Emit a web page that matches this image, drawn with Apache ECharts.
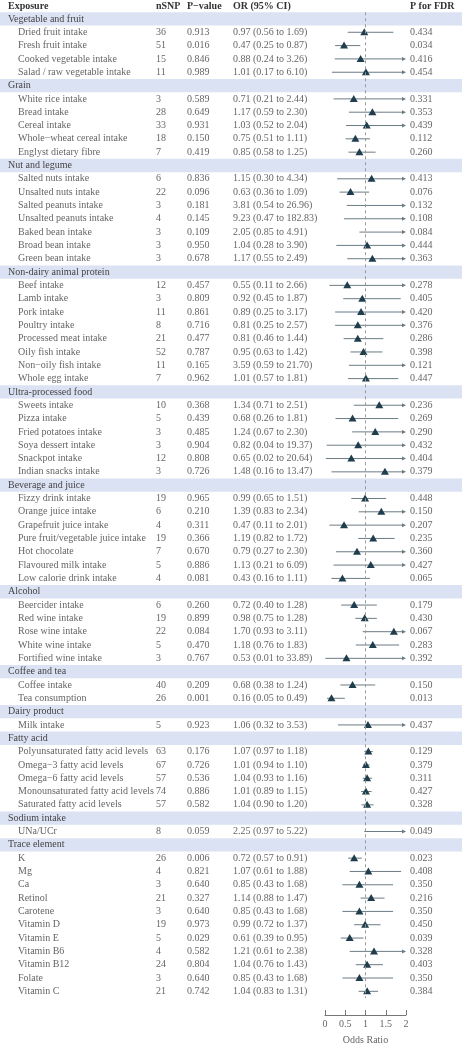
<!DOCTYPE html>
<html><head><meta charset="utf-8">
<script src="https://cdn.jsdelivr.net/npm/echarts@6/dist/echarts.min.js"></script>
<style>html,body{margin:0;padding:0;background:#fff}#c{width:462px;height:1050px}</style>
</head><body><div id="c"></div>
<script>
const groupNames = ["Vegetable and fruit","Grain","Nut and legume","Non-dairy animal protein","Ultra-processed food","Beverage and juice","Alcohol","Coffee and tea","Dairy product","Fatty acid","Sodium intake","Trace element"];
const groupSizes = [4,5,7,8,6,7,5,2,1,5,1,11];
const exposures = ["Dried fruit intake","Fresh fruit intake","Cooked vegetable intake","Salad / raw vegetable intake",
"White rice intake","Bread intake","Cereal intake","Whole\u2212wheat cereal intake","Englyst dietary fibre",
"Salted nuts intake","Unsalted nuts intake","Salted peanuts intake","Unsalted peanuts intake","Baked bean intake","Broad bean intake","Green bean intake",
"Beef intake","Lamb intake","Pork intake","Poultry intake","Processed meat intake","Oily fish intake","Non\u2212oily fish intake","Whole egg intake",
"Sweets intake","Pizza intake","Fried potatoes intake","Soya dessert intake","Snackpot intake","Indian snacks intake",
"Fizzy drink intake","Orange juice intake","Grapefruit juice intake","Pure fruit/vegetable juice intake","Hot chocolate","Flavoured milk intake","Low calorie drink intake",
"Beercider intake","Red wine intake","Rose wine intake","White wine intake","Fortified wine intake",
"Coffee intake","Tea consumption","Milk intake",
"Polyunsaturated fatty acid levels","Omega\u22123 fatty acid levels","Omega\u22126 fatty acid levels","Monounsaturated fatty acid levels","Saturated fatty acid levels",
"UNa/UCr",
"K","Mg","Ca","Retinol","Carotene","Vitamin D","Vitamin E","Vitamin B6","Vitamin B12","Folate","Vitamin C"];
const nsnp = [36,51,15,11, 3,28,33,18,7, 6,22,3,4,3,3,3, 12,3,11,8,21,52,11,7, 10,5,3,3,12,3, 19,6,4,19,7,5,4, 6,19,22,5,3, 40,26, 5, 63,67,57,74,57, 8, 26,4,3,21,3,19,5,4,24,3,21];
const pvals = ["0.913","0.016","0.846","0.989","0.589","0.649","0.931","0.150","0.419","0.836","0.096","0.181","0.145","0.109","0.950","0.678","0.457","0.809","0.861","0.716","0.477","0.787","0.165","0.962","0.368","0.439","0.485","0.904","0.808","0.726","0.965","0.210","0.311","0.366","0.670","0.886","0.081","0.260","0.899","0.084","0.470","0.767","0.209","0.001","0.923","0.176","0.726","0.536","0.886","0.582","0.059","0.006","0.821","0.640","0.327","0.640","0.973","0.029","0.582","0.804","0.640","0.742"];
const ors = [0.97,0.47,0.88,1.01, 0.71,1.17,1.03,0.75,0.85, 1.15,0.63,3.81,9.23,2.05,1.04,1.17, 0.55,0.92,0.89,0.81,0.81,0.95,3.59,1.01, 1.34,0.68,1.24,0.82,0.65,1.48, 0.99,1.39,0.47,1.19,0.79,1.13,0.43, 0.72,0.98,1.70,1.18,0.53, 0.68,0.16, 1.06, 1.07,1.01,1.04,1.01,1.04, 2.25, 0.72,1.07,0.85,1.14,0.85,0.99,0.61,1.21,1.04,0.85,1.04];
const lows = [0.56,0.25,0.24,0.17, 0.21,0.59,0.52,0.51,0.58, 0.30,0.36,0.54,0.47,0.85,0.28,0.55, 0.11,0.45,0.25,0.25,0.46,0.63,0.59,0.57, 0.71,0.26,0.67,0.04,0.02,0.16, 0.65,0.83,0.11,0.82,0.27,0.21,0.16, 0.40,0.75,0.93,0.76,0.01, 0.38,0.05, 0.32, 0.97,0.94,0.93,0.89,0.90, 0.97, 0.57,0.61,0.43,0.88,0.43,0.72,0.39,0.61,0.76,0.43,0.83];
const highs = [1.69,0.87,3.26,6.10, 2.44,2.30,2.04,1.11,1.25, 4.34,1.09,26.96,182.83,4.91,3.90,2.49, 2.66,1.87,3.17,2.57,1.44,1.42,21.70,1.81, 2.51,1.81,2.30,19.37,20.64,13.47, 1.51,2.34,2.01,1.72,2.30,6.09,1.11, 1.28,1.28,3.11,1.83,33.89, 1.24,0.49, 3.53, 1.18,1.10,1.16,1.15,1.20, 5.22, 0.91,1.88,1.68,1.47,1.68,1.37,0.95,2.38,1.43,1.68,1.31];
const fdrs = ["0.434","0.034","0.416","0.454","0.331","0.353","0.439","0.112","0.260","0.413","0.076","0.132","0.108","0.084","0.444","0.363","0.278","0.405","0.420","0.376","0.286","0.398","0.121","0.447","0.236","0.269","0.290","0.432","0.404","0.379","0.448","0.150","0.207","0.235","0.360","0.427","0.065","0.179","0.430","0.067","0.283","0.392","0.150","0.013","0.437","0.129","0.379","0.311","0.427","0.328","0.049","0.023","0.408","0.350","0.216","0.350","0.450","0.039","0.328","0.403","0.350","0.384"];

const rows = [];
let k = 0;
groupNames.forEach((g, gi) => {
  rows.push({group: true, label: g});
  for (let j = 0; j < groupSizes[gi]; j++, k++) rows.push({group: false, i: k});
});
const cats = rows.map((r, i) => String(i));
const FONT = '"Liberation Serif","DejaVu Serif",serif';
const TXT = '#666';
const LINE = '#6b7b84', TRI = '#1f3d4d';

function renderItem(params, api) {
  const idx = api.value(0);
  const r = rows[idx];
  const y = api.coord([1, idx])[1];
  const h = api.size([0, 1])[1];
  const ch = [];
  const t = (x, s, c) => ({type: 'text', style: {x: x, y: y, text: s, fill: c || TXT, font: '10px ' + FONT, textVerticalAlign: 'middle'}});
  if (r.group) {
    ch.push({type: 'rect', shape: {x: 0, y: y - h / 2, width: 462, height: h}, style: {fill: '#dbe2f3'}});
    ch.push(t(8, r.label, '#444'));
    return {type: 'group', children: ch};
  }
  const i = r.i;
  ch.push(t(18, exposures[i]));
  ch.push(t(156, String(nsnp[i])));
  ch.push(t(187, pvals[i]));
  ch.push(t(233, ors[i].toFixed(2) + ' (' + lows[i].toFixed(2) + ' to ' + highs[i].toFixed(2) + ')'));
  ch.push(t(410, fdrs[i]));
  const x0 = api.coord([Math.max(lows[i], 0), idx])[0];
  const over = highs[i] > 2;
  const x1 = api.coord([Math.min(highs[i], 2), idx])[0];
  ch.push({type: 'line', shape: {x1: x0, y1: y, x2: over ? x1 - 3 : x1, y2: y}, style: {stroke: LINE, lineWidth: 1}});
  if (over) ch.push({type: 'polygon', shape: {points: [[x1, y], [x1 - 4, y - 2], [x1 - 4, y + 2]]}, style: {fill: LINE}});
  if (ors[i] <= 2) {
    const xc = api.coord([ors[i], idx])[0];
    ch.push({type: 'polygon', shape: {points: [[xc, y - 4], [xc - 4, y + 3], [xc + 4, y + 3]]}, style: {fill: TRI}});
  }
  return {type: 'group', children: ch};
}

const chart = echarts.init(document.getElementById('c'), null, {renderer: 'canvas'});
chart.setOption({
  animation: false,
  grid: {left: 325, width: 81, top: 12.3, height: 992.3},
  xAxis: {type: 'value', min: 0, max: 2, interval: 0.5, offset: 17,
    axisLine: {show: true, lineStyle: {color: '#777'}},
    axisTick: {show: true, inside: true, length: 5, lineStyle: {color: '#777'}},
    axisLabel: {color: '#666', fontFamily: FONT, fontSize: 10, margin: 4},
    splitLine: {show: false},
    name: 'Odds Ratio', nameLocation: 'middle', nameGap: 20,
    nameTextStyle: {color: '#666', fontFamily: FONT, fontSize: 10}},
  yAxis: {type: 'category', data: cats, inverse: true, show: false},
  graphic: [
    {type: 'text', left: 8, top: 1, style: {text: 'Exposure', fill: '#333', font: 'bold 10px ' + FONT}},
    {type: 'text', left: 156, top: 1, style: {text: 'nSNP', fill: '#333', font: 'bold 10px ' + FONT}},
    {type: 'text', left: 187, top: 1, style: {text: 'P\u2212value', fill: '#333', font: 'bold 10px ' + FONT}},
    {type: 'text', left: 233, top: 1, style: {text: 'OR (95% CI)', fill: '#333', font: 'bold 10px ' + FONT}},
    {type: 'text', left: 410, top: 1, style: {text: 'P for FDR', fill: '#333', font: 'bold 10px ' + FONT}}
  ],
  series: [
    {type: 'custom', renderItem: renderItem, clip: false, data: rows.map((r, i) => [i]), encode: {y: 0}, z: 2},
    {type: 'line', data: [], z: 3, markLine: {silent: true, symbol: 'none', label: {show: false},
      lineStyle: {color: '#999', type: [3, 3], width: 1}, data: [{xAxis: 1}]}}
  ]
});
</script></body></html>
